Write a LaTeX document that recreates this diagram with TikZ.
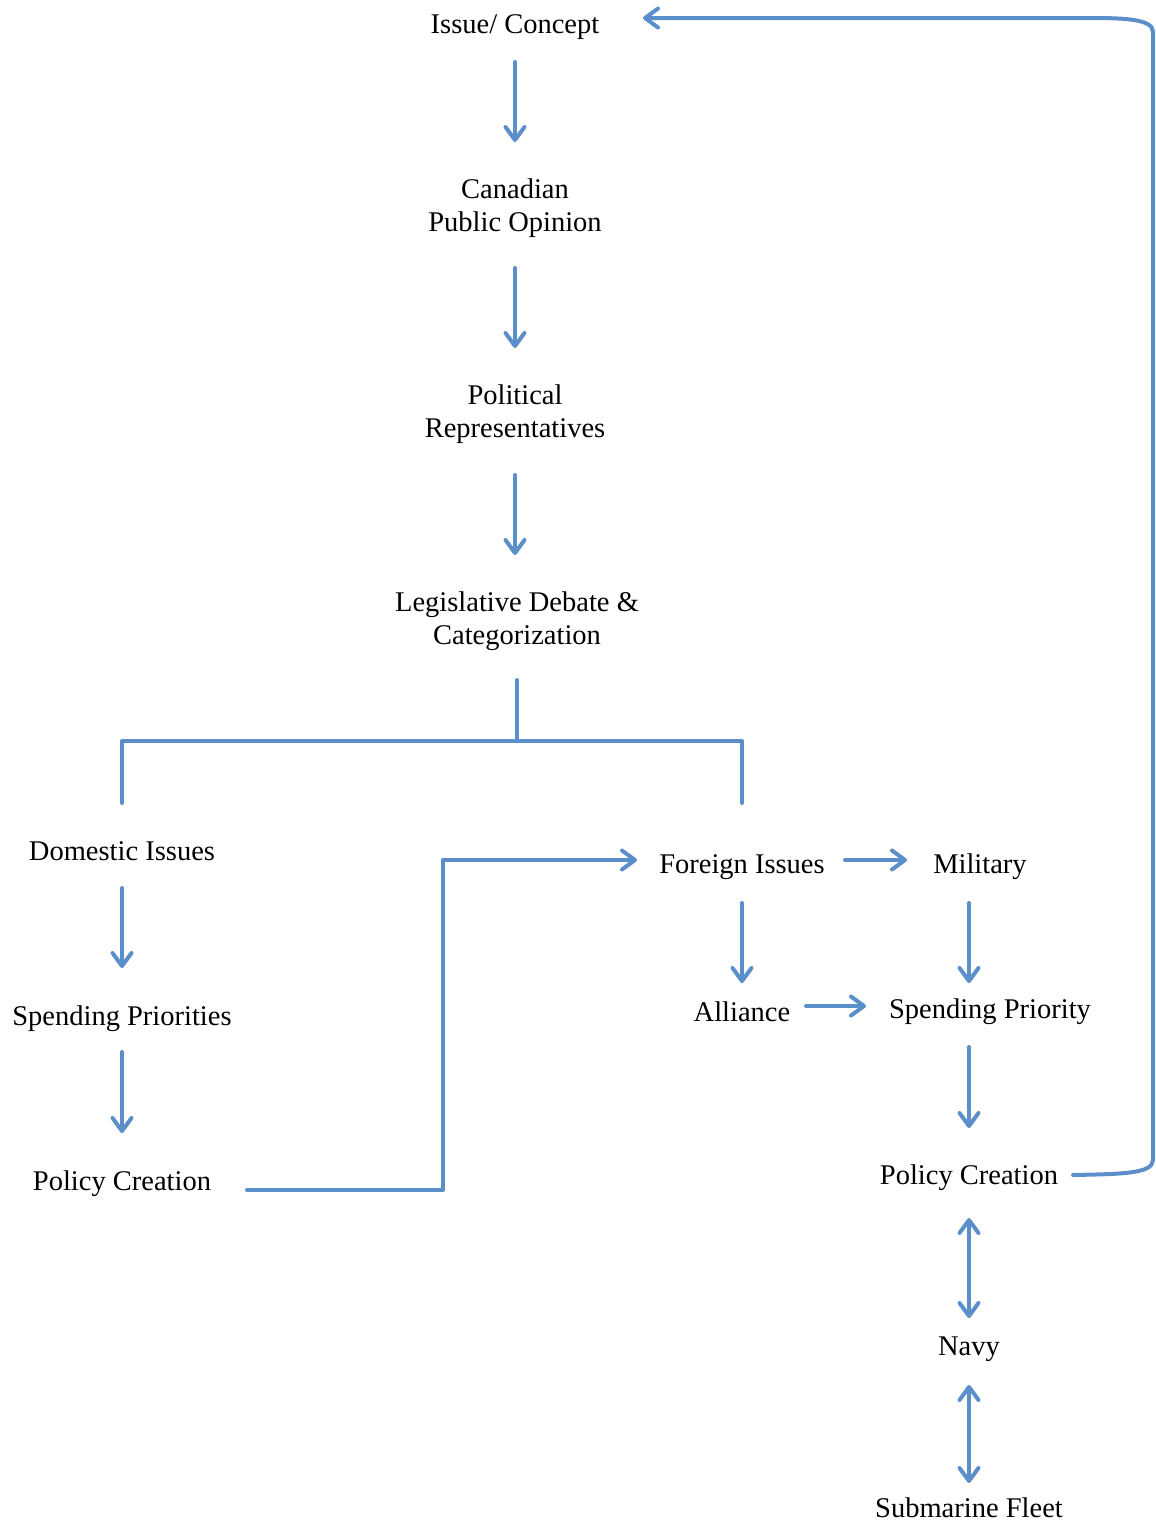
\documentclass[tikz,border=0pt]{standalone}
\usepackage{fontspec}
\setmainfont{Liberation Serif}
\usetikzlibrary{arrows.meta}
\definecolor{lineblue}{HTML}{5B8FC9}
\tikzset{
  lbl/.style={align=center, font=\fontsize{28.5}{33}\selectfont, inner sep=0pt},
  conn/.style={draw=lineblue, line width=4pt, line cap=round, line join=round},
  arr/.style={conn, -{Straight Barb[length=13pt,width=19pt,round]}},
  darr/.style={conn, {Straight Barb[length=13pt,width=19pt,round]}-{Straight Barb[length=13pt,width=19pt,round]}}
}
\begin{document}
\begin{tikzpicture}[x=1pt,y=-1pt]
\useasboundingbox (0,0) rectangle (1156,1521);
% nodes
\node[lbl] (issue) at (515,27) {Issue/ Concept};
\node[lbl] (canadian) at (515,208) {Canadian\\Public Opinion};
\node[lbl] (political) at (515,414) {Political\\Representatives};
\node[lbl] (legis) at (517,621) {Legislative Debate \&\\Categorization};
\node[lbl] (domestic) at (122,851) {Domestic Issues};
\node[lbl] (spendL) at (122,1019) {Spending Priorities};
\node[lbl] (policyL) at (122,1184) {Policy Creation};
\node[lbl] (foreign) at (742,867) {Foreign Issues};
\node[lbl] (military) at (980,867) {Military};
\node[lbl] (alliance) at (742,1012) {Alliance};
\node[lbl] (spendR) at (990,1012) {Spending Priority};
\node[lbl] (policyR) at (969,1178) {Policy Creation};
\node[lbl] (navy) at (969,1349) {Navy};
\node[lbl] (sub) at (969,1508) {Submarine Fleet};
% helper coordinates
\coordinate (split) at (517,741);
\coordinate (bendL) at (443,1190);
\coordinate (fbB) at (1153,1160);
\coordinate (fbT) at (1153,32);
\coordinate (fbT2) at (1090,18);
% main chain
\draw[arr, shorten <=35pt, shorten >=66pt] (issue.center) -- (canadian.center);
\draw[arr, shorten <=60pt, shorten >=66pt] (canadian.center) -- (political.center);
\draw[arr, shorten <=61pt, shorten >=66pt] (political.center) -- (legis.center -| political.center);
\draw[conn, shorten <=59pt] (legis.center) -- (split);
\draw[conn, shorten >=48pt] (split) -| (domestic.center);
\draw[conn, shorten >=64pt] (split) -| (foreign.center);
% domestic column
\draw[arr, shorten <=37pt, shorten >=51pt] (domestic.center) -- (spendL.center);
\draw[arr, shorten <=33pt, shorten >=51pt] (spendL.center) -- (policyL.center);
\draw[arr, shorten <=125pt, shorten >=105pt] ([yshift=-6pt]policyL.center) -- (bendL) |- ([yshift=7pt]foreign.center);
% foreign
\draw[arr, shorten <=103pt, shorten >=73pt] ([yshift=7pt]foreign.center) -- ([yshift=7pt]military.center);
\draw[arr, shorten <=36pt, shorten >=29pt] (foreign.center) -- (alliance.center);
\draw[arr, shorten <=64pt, shorten >=124pt] ([yshift=6pt]alliance.center) -- ([yshift=6pt]spendR.center);
\draw[arr, shorten <=36pt, shorten >=29pt] (policyR.center |- military.center) -- (policyR.center |- spendR.center);
\draw[arr, shorten <=35pt, shorten >=50pt] (policyR.center |- spendR.center) -- (policyR.center);
\draw[darr, shorten <=40pt, shorten >=31pt] (policyR.center) -- (navy.center);
\draw[darr, shorten <=36pt, shorten >=25pt] (navy.center) -- (sub.center);
% feedback loop
\draw[arr, shorten >=128pt] ([xshift=104pt,yshift=3pt]policyR.center) .. controls (1120,1174) and (1153,1174) .. (fbB) -- (fbT) .. controls (1153,19) and (1125,18) .. (fbT2) -- ([yshift=9pt]issue.center);
\end{tikzpicture}
\end{document}
